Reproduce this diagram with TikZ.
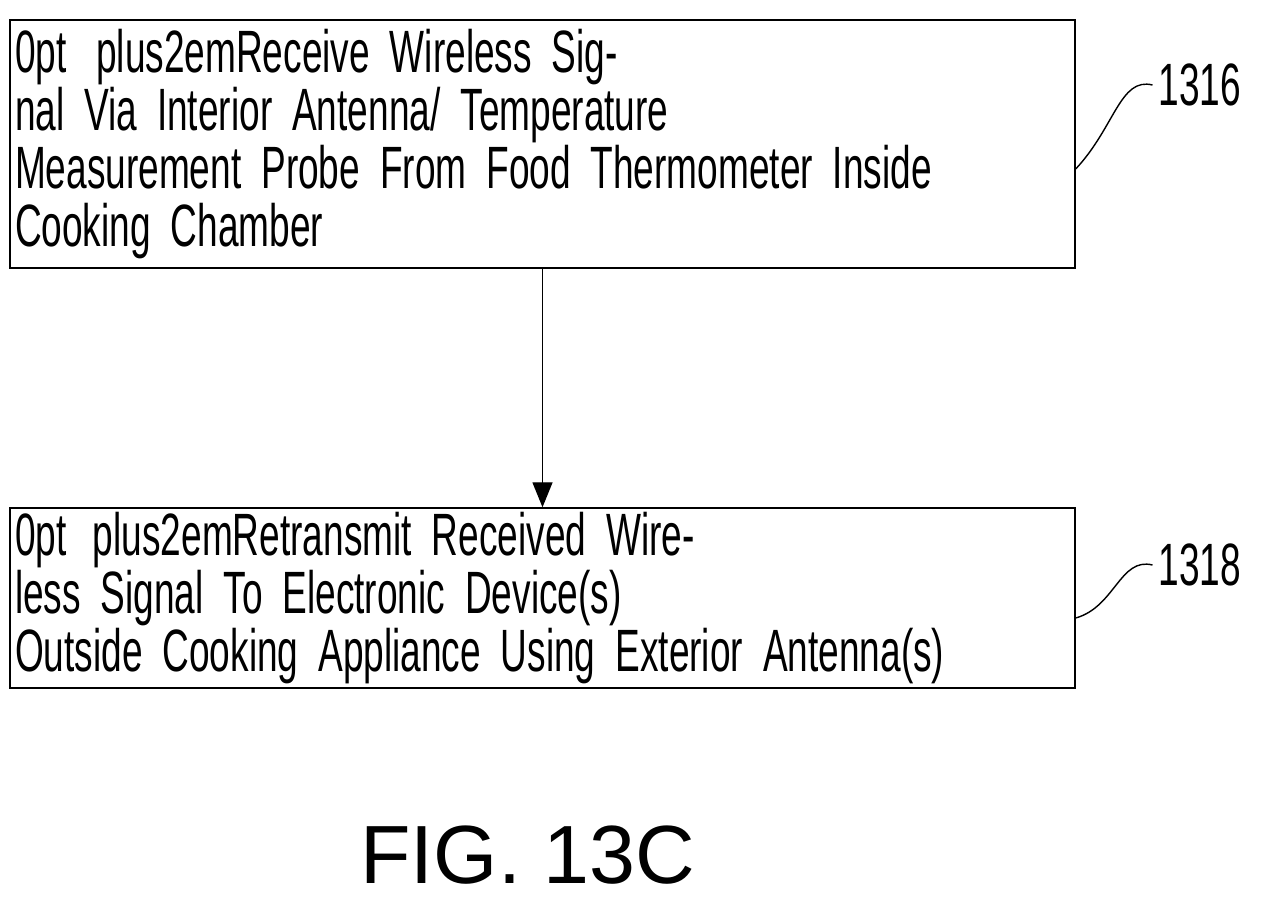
\documentclass[tikz,border=0pt]{standalone}
\usepackage{fontspec}
\setmainfont[FakeStretch=0.62]{Liberation Sans}
\newfontfamily\figfont{Liberation Sans}
\usetikzlibrary{positioning, arrows.meta}
\tikzset{%
    % flow boxes
    stepbox/.style = {draw, thick, rectangle, minimum width = 21.3cm,
    text width = 21.1cm, align = center, inner sep = 0pt,
    font = \fontsize{34}{33}\selectfont\spaceskip=0.14em plus 0.05em\relax},
    reflabel/.style = {font = \fontsize{34}{33}\selectfont, anchor = west},
    arc/.style = {-{Triangle[length=5mm,width=4mm]}, thick, black}
}
\begin{document}
\begin{tikzpicture}
	\useasboundingbox (0,0) rectangle (25.3,18.24);
	
	% boxes
	\node[stepbox, minimum height = 4.96cm] (recv) at (10.85,15.36)
	{Receive Wireless Signal Via Interior Antenna/ Temperature\\
	Measurement Probe From Food Thermometer Inside\\
	Cooking Chamber};
	\node[stepbox, minimum height = 3.6cm] (resend) at (10.85,6.28)
	{Retransmit Received Wireless Signal To Electronic Device(s)\\
	Outside Cooking Appliance Using Exterior Antenna(s)};
	\draw[arc] (recv.south) -- (resend.north);
	
	% reference numbers
	\node[reflabel] (n1316) at (23.05,16.54) {1316};
	\node[reflabel] (n1318) at (23.05,6.94) {1318};
	\draw[thick] ([yshift=-0.5cm]recv.east) .. controls (22.3,15.7) and (22.4,16.7) .. (n1316.west);
	\draw[thick] ([yshift=-0.4cm]resend.east) .. controls (22.3,6.1) and (22.4,7.1) .. (n1318.west);
	
	\node[font=\figfont\fontsize{47}{50}\selectfont] (fig) at (10.56,1.14) {FIG. 13C};
\end{tikzpicture}
\end{document}
